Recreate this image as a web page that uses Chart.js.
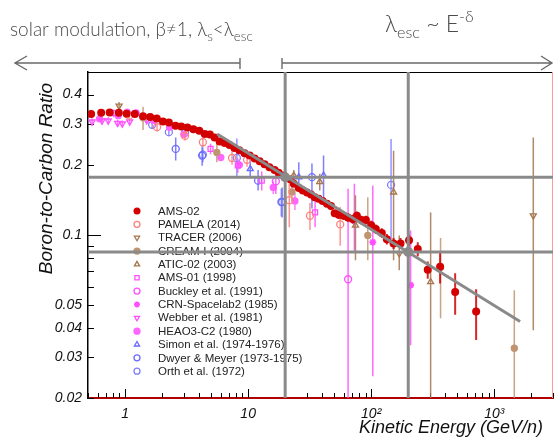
<!DOCTYPE html>
<html lang="en">
<head>
<meta charset="UTF-8" />
<title>Boron-to-Carbon Ratio</title>
<script src="https://cdn.jsdelivr.net/npm/chart.js"></script>
<style>
  body { margin: 0; background: #fff; }
  canvas { display: block; }
</style>
</head>
<body>
<canvas id="bc" width="554" height="440"></canvas>
<script>
// AMS-02: kinetic energy (GeV/n), B/C and its error
const amsE = [0.53, 0.64, 0.75, 0.89, 1.03, 1.20, 1.40, 1.60, 1.81, 2.03,
  2.27, 2.57, 2.86, 3.21, 3.59, 4.01, 4.44, 4.89, 5.34, 5.87,
  6.45, 7.06, 7.73, 8.48, 9.35, 10.3, 11.3, 12.4, 13.6, 14.9,
  16.4, 17.7, 19.5, 22.1, 23.5, 25.8, 27.8, 30.1, 32.4, 34.8,
  37.4, 40.3, 43.7, 47.1, 50.5, 54.4, 59.7, 64.7, 70.6, 76.5,
  83.1, 90.6, 100, 109, 122, 134, 152, 173, 203, 239,
  288, 363, 481, 712];
const amsR = [0.330, 0.334, 0.335, 0.334, 0.331, 0.330, 0.323, 0.321, 0.316, 0.307,
  0.304, 0.294, 0.292, 0.289, 0.284, 0.280, 0.271, 0.270, 0.262, 0.252,
  0.248, 0.243, 0.236, 0.231, 0.224, 0.219, 0.213, 0.207, 0.201, 0.195,
  0.190, 0.185, 0.180, 0.173, 0.166, 0.159, 0.155, 0.152, 0.149, 0.145,
  0.143, 0.140, 0.136, 0.133, 0.124, 0.122, 0.121, 0.119, 0.117, 0.121,
  0.116, 0.116, 0.110, 0.106, 0.102, 0.096, 0.092, 0.092, 0.095, 0.087,
  0.071, 0.073, 0.057, 0.047];
const amsErr = [0.003, 0.003, 0.003, 0.003, 0.003, 0.003, 0.003, 0.003, 0.003, 0.003,
  0.003, 0.003, 0.003, 0.003, 0.003, 0.003, 0.003, 0.003, 0.003, 0.003,
  0.003, 0.003, 0.003, 0.003, 0.003, 0.003, 0.003, 0.003, 0.003, 0.003,
  0.004, 0.004, 0.004, 0.004, 0.004, 0.004, 0.004, 0.004, 0.004, 0.004,
  0.004, 0.004, 0.004, 0.004, 0.004, 0.005, 0.005, 0.005, 0.005, 0.005,
  0.005, 0.005, 0.005, 0.005, 0.005, 0.005, 0.005, 0.005, 0.0055, 0.006,
  0.006, 0.011, 0.0115, 0.0115];

// other experiments: [E, ratio, bar low, bar high]
const pamela = [[1.08, 0.325, 0.315, 0.335], [1.82, 0.290, 0.278, 0.302], [3.07, 0.266, 0.254, 0.278],
  [4.29, 0.250, 0.238, 0.262], [7.4, 0.214, 0.200, 0.228], [9.8, 0.210, 0.196, 0.224],
  [21.6, 0.141, 0.108, 0.166], [31.8, 0.121, 0.105, 0.137], [56, 0.111, 0.090, 0.132]];
const tracer = [[0.894, 0.358, 0.345, 0.372], [169, 0.0833, 0.0706, 0.0994], [2075, 0.121, 0.039, 0.262]];
const cream = [[1.40, 0.318, 0.282, 0.355], [5.57, 0.226, 0.205, 0.248], [22.7, 0.153, 0.140, 0.167],
  [93.8, 0.0996, 0.078, 0.145], [366, 0.0727, 0.044, 0.097], [1455, 0.0327, 0.015, 0.058]];
const atic = [[23.5, 0.180, 0.170, 0.190], [38.2, 0.169, 0.155, 0.183], [74.5, 0.110, 0.078, 0.148],
  [152, 0.1525, 0.078, 0.23], [304, 0.0629, 0.015, 0.125]];
const ams01 = [[0.81, 0.333, 0.320, 0.345], [1.22, 0.333, 0.320, 0.345], [4.95, 0.234, 0.222, 0.246],
  [8.25, 0.199, 0.185, 0.213], [12.9, 0.171, 0.155, 0.187], [35, 0.125, 0.108, 0.142]];
const buckley = [[16.8, 0.170, 0.150, 0.190], [64.9, 0.0646, 0.015, 0.158]];
const crn = [[73, 0.115, 0.0859, 0.166], [103, 0.0932, 0.0248, 0.163], [209, 0.0609, 0.0337, 0.1046]];
const webber = [[0.54, 0.306, 0.295, 0.317], [0.65, 0.309, 0.298, 0.320], [0.73, 0.309, 0.298, 0.320],
  [0.87, 0.302, 0.292, 0.312], [0.95, 0.300, 0.290, 0.310], [1.09, 0.306, 0.296, 0.316], [1.5, 0.310, 0.300, 0.320]];
const heao = [[0.62, 0.315, 0.309, 0.321], [0.88, 0.325, 0.319, 0.331], [1.04, 0.336, 0.330, 0.342],
  [1.23, 0.334, 0.328, 0.340], [1.7, 0.310, 0.304, 0.316], [2.3, 0.290, 0.284, 0.296],
  [3.0, 0.270, 0.264, 0.276], [6.0, 0.215, 0.208, 0.222], [8.5, 0.200, 0.192, 0.208],
  [16, 0.160, 0.150, 0.170], [24, 0.140, 0.128, 0.152]];
const simon = [[10.4, 0.192, 0.175, 0.210], [25.8, 0.177, 0.155, 0.205], [41, 0.180, 0.145, 0.219]];
const dwyer = [[2.58, 0.234, 0.2085, 0.262], [4.23, 0.219, 0.198, 0.240], [12.05, 0.171, 0.155, 0.190],
  [18.9, 0.1385, 0.119, 0.160], [33, 0.177, 0.130, 0.2025]];
const orth = [[1.66, 0.297, 0.285, 0.310], [2.27, 0.276, 0.265, 0.290], [3.07, 0.274, 0.262, 0.286],
  [4.29, 0.221, 0.205, 0.237], [8.1, 0.214, 0.176, 0.259], [18.6, 0.1385, 0.120, 0.158],
  [145, 0.164, 0.0948, 0.258]];

// axis ticks
const xTicks = [1, 10, 100, 1000];
const xTickLabels = ['1', '10', '10²', '10³'];
const yTicks = [0.02, 0.03, 0.04, 0.05, 0.1, 0.2, 0.3, 0.4];

// hand drawn guides: break energies, their ratio, and the power-law line
const guideE = [20, 200];
const guideR = [0.177, 0.0845];
const slopeE = [5.6, 1620];
const slopeR = [0.271, 0.0426];

const red = '#d20000', salmon = '#ff7f7f', brown = '#a5764e', tan = '#c09470';
const magenta = '#ff50ff', blue = '#6a6aff', blue2 = '#8080ff';
const guideGray = '#8a8a8a';
const font = '"Liberation Sans", Arial, sans-serif';

function rows(list) {
  return list.map(r => ({x: r[0], y: r[1], lo: r[2], hi: r[3]}));
}

function series(label, data, color, style, filled, extra) {
  return Object.assign({
    label: label,
    data: data,
    pointStyle: style,
    pointRadius: 3.5,
    borderWidth: 1.3,
    borderColor: color,
    backgroundColor: filled ? color : 'rgba(0,0,0,0)',
    barColor: color,
    showLine: false,
    inLegend: true,
    order: 1
  }, extra || {});
}

const amsData = amsE.map((e, i) => ({x: e, y: amsR[i], lo: amsR[i] - amsErr[i], hi: amsR[i] + amsErr[i]}));

const datasets = [
  series('AMS-02', amsData, red, 'circle', true, {pointRadius: 4, borderWidth: 0, legendRadius: 3.5}),
  series('PAMELA (2014)', rows(pamela), salmon, 'circle', false),
  series('TRACER (2006)', rows(tracer), brown, 'triangle', false, {pointRotation: 180}),
  series('CREAM-I (2004)', rows(cream), tan, 'circle', true, {pointRadius: 3}),
  series('ATIC-02 (2003)', rows(atic), brown, 'triangle', false),
  series('AMS-01 (1998)', rows(ams01), magenta, 'rect', false),
  series('Buckley et al. (1991)', rows(buckley), magenta, 'circle', false),
  series('CRN-Spacelab2 (1985)', rows(crn), magenta, 'star', false, {borderWidth: 1.8}),
  series('Webber et al. (1981)', rows(webber), magenta, 'triangle', false, {pointRotation: 180}),
  series('HEAO3-C2 (1980)', rows(heao), '#ff66ff', 'circle', true, {pointRadius: 3}),
  series('Simon et al. (1974-1976)', rows(simon), blue, 'triangle', false),
  series('Dwyer & Meyer (1973-1975)', rows(dwyer), blue, 'circle', false),
  series('Orth et al. (1972)', rows(orth), blue2, 'circle', false)
];

function guideLine(points) {
  return {data: points, showLine: true, borderColor: guideGray, borderWidth: 3,
    pointRadius: 0, inLegend: false, order: 0};
}
guideE.forEach(e => datasets.push(guideLine([{x: e, y: 0.02}, {x: e, y: 0.5}])));
guideR.forEach(r => datasets.push(guideLine([{x: 0.5, y: r}, {x: 3000, y: r}])));
datasets.push(guideLine(slopeE.map((e, i) => ({x: e, y: slopeR[i]}))));
datasets.push({data: guideE.map((e, i) => ({x: e, y: guideR[i]})), pointRadius: 5,
  backgroundColor: guideGray, borderWidth: 0, inLegend: false, order: 0});

function marker(ctx, ds, r, x, y) {
  const opts = {pointStyle: ds.pointStyle, rotation: ds.pointRotation || 0, radius: r, borderWidth: ds.borderWidth};
  ctx.fillStyle = ds.backgroundColor;
  ctx.strokeStyle = ds.borderColor;
  ctx.lineWidth = ds.borderWidth;
  if (Chart.helpers && Chart.helpers.drawPoint) {
    Chart.helpers.drawPoint(ctx, opts, x, y);
  } else {
    ctx.beginPath(); ctx.arc(x, y, r, 0, Math.PI * 2); ctx.fill(); ctx.stroke();
  }
}

// error bars, drawn right under each dataset's own markers
const errorBars = {
  id: 'errorBars',
  beforeDatasetDraw(chart, args) {
    const ds = chart.data.datasets[args.index];
    if (!ds.barColor) return;
    const {ctx, chartArea: a, scales: {y}} = chart;
    ctx.save();
    ctx.beginPath(); ctx.rect(a.left, a.top, a.right - a.left, a.bottom - a.top); ctx.clip();
    ctx.strokeStyle = ds.barColor;
    ctx.globalAlpha = 0.85;
    ctx.lineWidth = ds.label === 'AMS-02' ? 2 : 1.5;
    ctx.beginPath();
    args.meta.data.forEach((pt, i) => {
      const d = ds.data[i];
      const lo = d.lo > 0 ? y.getPixelForValue(d.lo) : a.bottom;
      ctx.moveTo(pt.x, Math.min(lo, a.bottom));
      ctx.lineTo(pt.x, y.getPixelForValue(d.hi));
    });
    ctx.stroke();
    ctx.restore();
  }
};

function richText(ctx, parts, x, y, size) {
  parts.forEach(p => {
    const s = p.sub || p.sup ? size * 0.7 : size;
    ctx.font = '300 ' + s + 'px Lato, "Open Sans", sans-serif';
    const dy = p.sub ? size * 0.25 : p.sup ? -size * 0.45 : 0;
    ctx.fillText(p.t, x, y + dy);
    x += ctx.measureText(p.t).width;
  });
}

// frame, inner ticks, titles, legend and the hand-written notes
const decorations = {
  id: 'decorations',
  beforeDatasetsDraw(chart) {
    const {ctx, chartArea: a, scales: {x, y}} = chart;
    ctx.save();

    // inner tick marks
    ctx.strokeStyle = '#000';
    ctx.lineWidth = 1;
    ctx.beginPath();
    [0.1, 1, 10, 100, 1000].forEach(d => {
      for (let k = 1; k <= 9; k++) {
        const v = d * k;
        if (v < 0.5 || v > 3000) continue;
        const px = Math.round(x.getPixelForValue(v)) + 0.5;
        ctx.moveTo(px, a.bottom);
        ctx.lineTo(px, a.bottom - (k === 1 ? 9 : 5));
      }
    });
    [0.01, 0.1].forEach(d => {
      for (let k = 1; k <= 9; k++) {
        const v = d * k;
        if (v < 0.02 || v > 0.5) continue;
        const py = Math.round(y.getPixelForValue(v)) + 0.5;
        ctx.moveTo(a.left, py);
        ctx.lineTo(a.left + (k === 1 ? 13 : 6), py);
      }
    });
    ctx.stroke();

    // top frame and right edge
    ctx.beginPath();
    ctx.moveTo(a.left, a.top + 0.5); ctx.lineTo(a.right, a.top + 0.5);
    ctx.stroke();
    ctx.strokeStyle = '#ff9a9a';
    ctx.beginPath();
    ctx.moveTo(a.right - 0.5, a.top); ctx.lineTo(a.right - 0.5, a.bottom);
    ctx.stroke();

    // axis titles
    ctx.fillStyle = '#111';
    ctx.textAlign = 'right';
    ctx.textBaseline = 'alphabetic';
    ctx.font = 'italic 18px ' + font;
    ctx.fillText('Kinetic Energy (GeV/n)', 543, 433);
    ctx.save();
    ctx.translate(52, 83);
    ctx.rotate(-Math.PI / 2);
    ctx.font = 'italic 19px ' + font;
    ctx.fillText('Boron-to-Carbon Ratio', 0, 0);
    ctx.restore();

    // legend inside the frame
    ctx.textAlign = 'left';
    ctx.textBaseline = 'middle';
    let ly = 211;
    chart.data.datasets.forEach(ds => {
      if (!ds.inLegend) return;
      ctx.save();
      marker(ctx, ds, ds.legendRadius || 3, 137, ly);
      ctx.restore();
      ctx.fillStyle = '#222';
      ctx.font = '11.5px ' + font;
      ctx.fillText(ds.label, 158, ly + 0.5);
      ly += 13.35;
    });

    // notes above the plot
    ctx.fillStyle = '#4a4a4a';
    ctx.textBaseline = 'alphabetic';
    richText(ctx, [{t: 'solar modulation, β≠1, λ'}, {t: 's', sub: true}, {t: '<λ'}, {t: 'esc', sub: true}], 10, 36, 19);
    richText(ctx, [{t: 'λ'}, {t: 'esc', sub: true}, {t: ' ~ E'}, {t: '-δ', sup: true}], 385, 32, 23);

    ctx.strokeStyle = '#6a6a6a';
    ctx.lineWidth = 1.4;
    ctx.beginPath();
    ctx.moveTo(15, 63); ctx.lineTo(240, 63);
    ctx.moveTo(27, 56); ctx.lineTo(15, 63); ctx.lineTo(27, 70);
    ctx.moveTo(240, 58); ctx.lineTo(240, 69);
    ctx.moveTo(282, 58); ctx.lineTo(282, 69);
    ctx.moveTo(282, 63); ctx.lineTo(552, 63);
    ctx.moveTo(541, 56); ctx.lineTo(552, 63); ctx.lineTo(541, 70);
    ctx.stroke();

    ctx.restore();
  }
};

new Chart(document.getElementById('bc'), {
  type: 'scatter',
  data: {datasets: datasets},
  plugins: [decorations, errorBars],
  options: {
    responsive: false,
    animation: false,
    layout: {autoPadding: false, padding: {top: 72, right: 1, left: 0, bottom: 0}},
    plugins: {legend: {display: false}, tooltip: {enabled: false}},
    scales: {
      x: {
        type: 'logarithmic',
        min: 0.5,
        max: 3000,
        afterFit: s => { s.height = 42; },
        afterBuildTicks: s => { s.ticks = xTicks.map(v => ({value: v})); },
        grid: {display: false, drawTicks: false},
        border: {color: '#b00000', width: 2},
        ticks: {
          autoSkip: false, maxRotation: 0, minRotation: 0, padding: 8,
          color: '#111', font: {family: font, size: 14, style: 'italic'},
          callback: v => xTickLabels[xTicks.indexOf(v)]
        }
      },
      y: {
        type: 'logarithmic',
        min: 0.02,
        max: 0.5,
        afterFit: s => { s.width = 88; },
        afterBuildTicks: s => { s.ticks = yTicks.map(v => ({value: v})); },
        grid: {display: false, drawTicks: false},
        border: {color: '#000', width: 1.5},
        ticks: {
          autoSkip: false, padding: 6,
          color: '#111', font: {family: font, size: 14, style: 'italic'},
          callback: v => String(v)
        }
      }
    }
  }
});
</script>
</body>
</html>
